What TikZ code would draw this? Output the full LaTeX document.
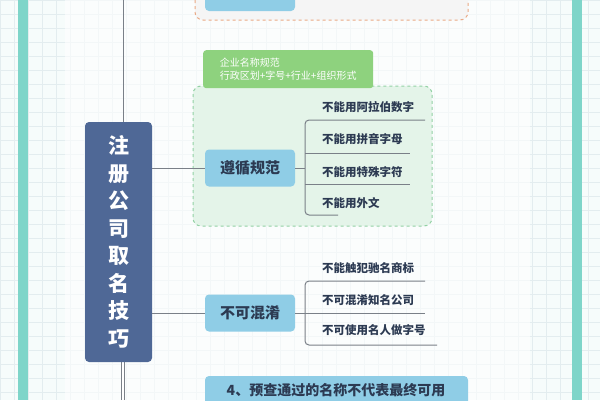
\documentclass[tikz,border=0pt]{standalone}
\usepackage{fontspec}
\newfontfamily\cjk{Noto Sans CJK SC}
\usetikzlibrary{positioning}
\definecolor{mainblue}{HTML}{4F6896}
\definecolor{skyfill}{HTML}{8FCDE6}
\definecolor{inkdark}{HTML}{2C3A52}
\definecolor{leafgreen}{HTML}{8ED27E}
\definecolor{mintfill}{HTML}{E4F4E9}
\definecolor{mintline}{HTML}{92D1A4}
\definecolor{peachline}{HTML}{EAAA86}
\definecolor{tealframe}{HTML}{7ED5C9}
\definecolor{gridline}{HTML}{E3EDEF}
\definecolor{branchgray}{HTML}{7A8088}
\begin{document}
\begin{tikzpicture}[x=1pt, y=-1pt,
  topic/.style={fill=skyfill, rounded corners=4pt, text=inkdark, font=\cjk\bfseries\fontsize{15}{18}\selectfont, minimum width=90pt, minimum height=37pt, inner sep=0pt},
  item/.style={anchor=west, text=inkdark, font=\cjk\bfseries\fontsize{11.5}{14}\selectfont, inner sep=0pt},
  branch/.style={draw=branchgray, line width=1pt}]
  \useasboundingbox (0,0) rectangle (600,400);
  % background
  \fill[white!93!tealframe] (0,0) rectangle (600,400);
  \draw[gridline, step=14pt] (0,0) grid (600,400);
  \fill[tealframe] (18,0) rectangle (28,400);
  \fill[tealframe] (572,0) rectangle (582,400);
  \fill[white, opacity=0.6] (65,0) rectangle (530,400);

  % top box
  \draw[peachline, dashed, line width=1pt, fill=gray!8, rounded corners=8pt] (195,-20) rectangle (468,20);
  \node[topic, minimum height=20pt] (prev) at (250,1) {};

  % main node
  \draw[branchgray, line width=1pt] (123,0) -- (123,122);
  \draw[branchgray, line width=1pt, double, double distance=1.5pt] (123,362) -- (123,400);
  \node[fill=mainblue, rounded corners=4pt, minimum width=67pt, minimum height=240pt, text=white, align=center,
        font=\cjk\bfseries\fontsize{21}{27.5}\selectfont] (main) at (118.5,242) {注\\册\\公\\司\\取\\名\\技\\巧};

  % rules branch
  \draw[mintline, dashed, line width=1pt, fill=mintfill, rounded corners=8pt] (193,86) rectangle (432,226);
  \node[fill=leafgreen, rounded corners=3pt, anchor=north west, text=white, align=left, minimum width=170pt,
        minimum height=38pt, font=\cjk\fontsize{10}{13}\selectfont, inner sep=4pt] (rulelabel) at (203,50)
        {企业名称规范\\行政区划+字号+行业+组织形式};
  \node[topic] (rules) at (250,168) {遵循规范};
  \draw[branch] (main.east |- rules) -- (rules);
  \draw[branch] (rules.east) -- (305,168);
  \draw[branch, rounded corners=4pt] (425,120) -- (305,120) -- (305,215) -- (338,215);
  \draw[branch] (305,153) -- (410,153);
  \draw[branch] (305,184) -- (410,184);
  \node[item] (ra) at (322,107) {不能用阿拉伯数字};
  \node[item] (rb) at (322,139) {不能用拼音字母};
  \node[item] (rc) at (322,172) {不能用特殊字符};
  \node[item] (rd) at (322,203) {不能用外文};

  % confusion branch
  \node[topic] (clear) at (250,313) {不可混淆};
  \draw[branch] (main.east |- clear) -- (clear);
  \draw[branch, rounded corners=4pt] (425,281) -- (305,281) -- (305,345) -- (437,345);
  \draw[branch] (clear.east) -- (425,313);
  \node[item] (ca) at (322,268) {不能触犯驰名商标};
  \node[item] (cb) at (322,300) {不可混淆知名公司};
  \node[item] (cc) at (322,330) {不可使用名人做字号};

  % bottom
  \fill[skyfill, rounded corners=4pt] (205,376) rectangle (468,416);
  \node[text=inkdark, font=\cjk\bfseries\fontsize{14}{17}\selectfont] (final) at (336,390) {4、预查通过的名称不代表最终可用};
\end{tikzpicture}
\end{document}
